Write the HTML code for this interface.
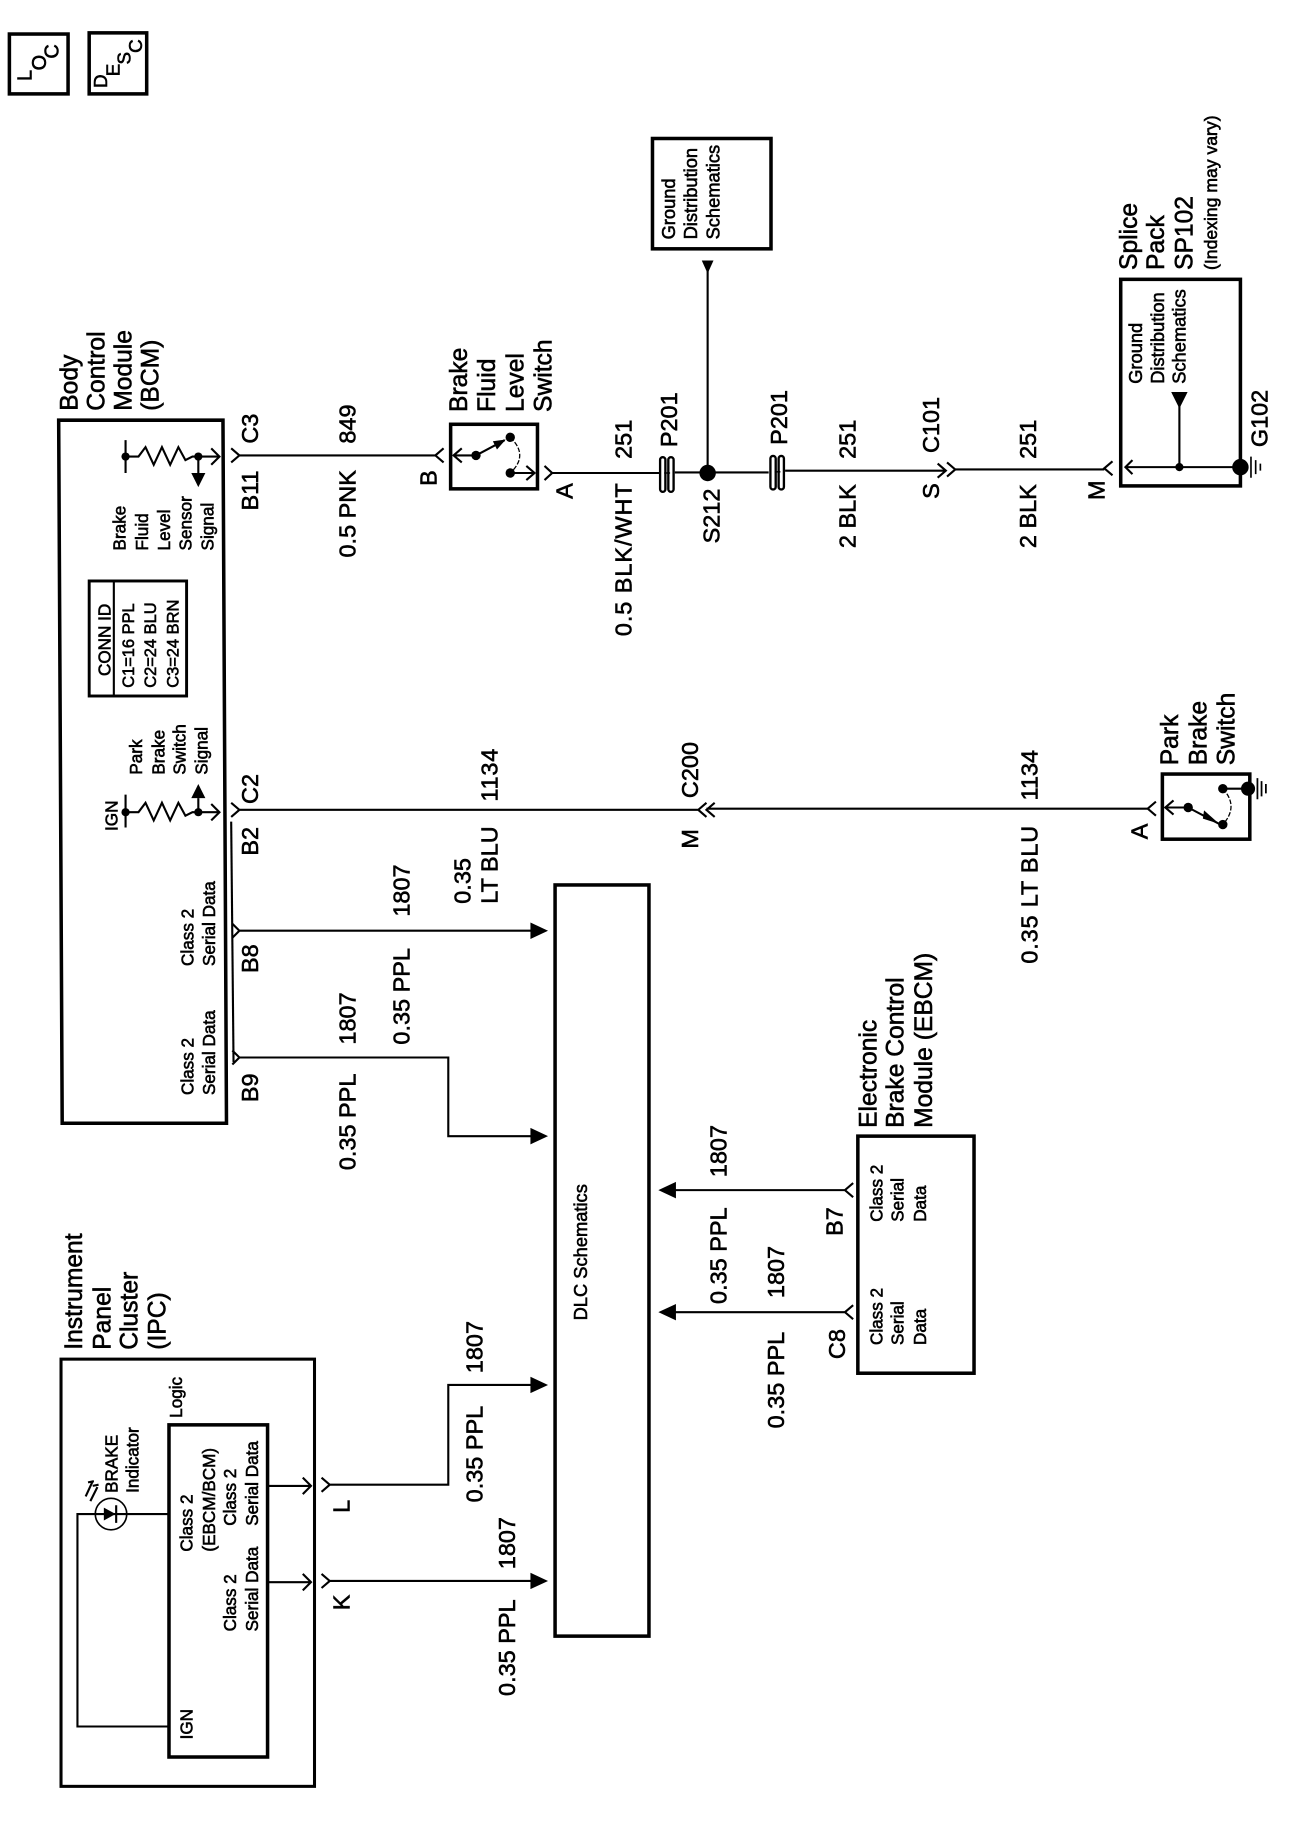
<!DOCTYPE html>
<html><head><meta charset="utf-8"><style>
html,body{margin:0;padding:0;background:#fff}
svg{display:block}
text{font-family:"Liberation Sans",sans-serif;fill:#000;stroke:#000;stroke-width:.5}
.l{font-size:20px}.s{font-size:14.6px}.t{font-size:21px}.g{font-size:15.6px}
.w{fill:none;stroke:#000;stroke-width:1.8}
.b{fill:none;stroke:#000;stroke-width:3}
.f{fill:#000;stroke:none}
.d{fill:none;stroke:#000;stroke-width:1.1;stroke-dasharray:4 1.5}
.p{fill:#fff;stroke:#000;stroke-width:2}
</style></head><body>
<svg width="1312" height="1838" viewBox="0 0 1118 1566" preserveAspectRatio="none" xmlns="http://www.w3.org/2000/svg">
<!-- LOC / DESC -->
<rect class="b" x="8" y="29" width="50" height="51"/>
<rect class="b" x="76" y="28" width="49" height="52"/>
<text class="l" style="font-size:17px" transform="translate(27 69) rotate(-90)">L</text>
<text class="l" style="font-size:17px" transform="translate(39 60) rotate(-90)">O</text>
<text class="l" style="font-size:17px" transform="translate(50 50) rotate(-90)">C</text>
<text class="s" style="font-size:16px" transform="translate(91 75) rotate(-90)">D</text>
<text class="s" style="font-size:16px" transform="translate(102 65) rotate(-90)">E</text>
<text class="s" style="font-size:16px" transform="translate(111 55) rotate(-90)">S</text>
<text class="s" style="font-size:16px" transform="translate(121 45) rotate(-90)">C</text>

<!-- BCM -->
<polygon class="b" points="50,358 190,358 193,957 53,957"/>
<text class="t" transform="translate(66 350) rotate(-90)">Body</text>
<text class="t" transform="translate(89 350) rotate(-90)">Control</text>
<text class="t" transform="translate(112 350) rotate(-90)">Module</text>
<text class="t" transform="translate(135 350) rotate(-90)">(BCM)</text>
<path class="w" d="M107 375V403M107 389H118L124 381L131 396L138 381L145 396L152 381L158 392L164 389H186M180 382L187 389L180 396M169 389V405"/>
<circle class="f" cx="107" cy="389" r="3.5"/><circle class="f" cx="169" cy="389" r="3.5"/>
<polygon class="f" points="163,403 175,403 169,415"/>
<text class="s" transform="translate(107 469) rotate(-90)">Brake</text>
<text class="s" transform="translate(126 469) rotate(-90)">Fluid</text>
<text class="s" transform="translate(145 469) rotate(-90)">Level</text>
<text class="s" transform="translate(163 469) rotate(-90)">Sensor</text>
<text class="s" transform="translate(182 469) rotate(-90)">Signal</text>
<!-- Conn ID -->
<rect class="b" style="stroke-width:2.5" x="76" y="495" width="83" height="98"/>
<path class="w" d="M97 495V593"/>
<text class="s" transform="translate(94 576) rotate(-90)">CONN ID</text>
<text class="s" style="font-size:14px" transform="translate(114 586) rotate(-90)">C1=16 PPL</text>
<text class="s" style="font-size:14px" transform="translate(133 586) rotate(-90)">C2=24 BLU</text>
<text class="s" style="font-size:14px" transform="translate(152 586) rotate(-90)">C3=24 BRN</text>
<!-- IGN resistor -->
<path class="w" d="M107 677V705M107 692H118L124 684L131 699L138 684L145 699L152 684L158 695L164 692H186M180 685L187 692L180 699M169 692V680"/>
<circle class="f" cx="107" cy="692" r="3.5"/><circle class="f" cx="169" cy="692" r="3.5"/>
<polygon class="f" points="163,680 175,680 169,668"/>
<text class="s" transform="translate(100 708) rotate(-90)">IGN</text>
<text class="s" transform="translate(121 660) rotate(-90)">Park</text>
<text class="s" transform="translate(140 660) rotate(-90)">Brake</text>
<text class="s" transform="translate(158 660) rotate(-90)">Switch</text>
<text class="s" transform="translate(177 660) rotate(-90)">Signal</text>
<text class="s" transform="translate(165 823) rotate(-90)">Class 2</text>
<text class="s" transform="translate(183 823) rotate(-90)">Serial Data</text>
<text class="s" transform="translate(165 933) rotate(-90)">Class 2</text>
<text class="s" transform="translate(183 933) rotate(-90)">Serial Data</text>

<!-- BCM pins and wires -->
<path class="w" d="M197 382L204 388L197 394M204 388H371M378 382L371 388L378 394"/>
<text class="l" transform="translate(220 378) rotate(-90)">C3</text>
<text class="l" transform="translate(220 435) rotate(-90)">B11</text>
<text class="l" transform="translate(303 378) rotate(-90)">849</text>
<text class="l" transform="translate(303 475) rotate(-90)">0.5 PNK</text>
<text class="l" transform="translate(372 414) rotate(-90)">B</text>

<path class="w" d="M197 684L204 690L197 696M204 690H595M602 684L595 690L602 696M609 684L602 690L609 696M602 689H978M985 683L978 689L985 695"/>
<path class="w" d="M197 700L199 905"/>
<path class="w" d="M198 787L204 793L198 799M204 793H453"/>
<polygon class="f" points="452,786 452,800 467,793"/>
<path class="w" d="M198 895L204 901H382V968H453"/>
<path class="w" d="M198 907L204 901"/>
<polygon class="f" points="452,961 452,975 467,968"/>
<text class="l" transform="translate(220 685) rotate(-90)">C2</text>
<text class="l" transform="translate(220 729) rotate(-90)">B2</text>
<text class="l" transform="translate(220 829) rotate(-90)">B8</text>
<text class="l" transform="translate(220 939) rotate(-90)">B9</text>
<text class="l" style="letter-spacing:.7px" transform="translate(424 683) rotate(-90)">1134</text>
<text class="l" transform="translate(401 770) rotate(-90)">0.35</text>
<text class="l" transform="translate(424 770) rotate(-90)">LT BLU</text>
<text class="l" transform="translate(349 781) rotate(-90)">1807</text>
<text class="l" transform="translate(349 890) rotate(-90)">0.35 PPL</text>
<text class="l" transform="translate(303 890) rotate(-90)">1807</text>
<text class="l" transform="translate(303 997) rotate(-90)">0.35 PPL</text>

<!-- DLC -->
<rect class="b" x="473" y="754" width="80" height="640"/>
<text class="g" transform="translate(500 1125) rotate(-90)">DLC Schematics</text>

<!-- Brake fluid level switch -->
<rect class="b" x="384" y="361.5" width="74" height="55"/>
<text class="t" transform="translate(398 351) rotate(-90)">Brake</text>
<text class="t" transform="translate(422 351) rotate(-90)">Fluid</text>
<text class="t" transform="translate(446 351) rotate(-90)">Level</text>
<text class="t" transform="translate(470 351) rotate(-90)">Switch</text>
<path class="w" d="M405.6 388H386.5M393.5 382L386.5 388L393.5 394M405.6 388L430 375M434.8 403H455M448.5 397L455.5 403L448.5 409"/>
<path class="d" d="M434.8 372.6Q451 388 434.8 403"/>
<polygon class="f" points="420,376 423.5,383 431,374.5"/>
<circle class="f" cx="405.6" cy="388" r="4"/><circle class="f" cx="434.8" cy="372.6" r="4"/><circle class="f" cx="434.8" cy="403" r="4"/>
<path class="w" d="M464 397L470.5 403L464 409M470.5 403H562M575 402.5H655M669 401H805M799 395L806 401L799 407M807 394L814 400L807 406M814 400H941M948 393L941 399L948 405"/>
<text class="l" transform="translate(488 425) rotate(-90)">A</text>
<text class="l" transform="translate(538 391) rotate(-90)">251</text>
<text class="l" style="letter-spacing:.8px" transform="translate(538 542) rotate(-90)">0.5 BLK/WHT</text>
<!-- P201 -->
<rect class="p" x="562.5" y="389.5" width="4.5" height="29.5" rx="2.2"/>
<rect class="p" x="569.5" y="389.5" width="4.5" height="29.5" rx="2.2"/>
<path class="w" d="M566 403H571" style="stroke-width:1.2"/>
<rect class="p" x="656.5" y="388.5" width="4.5" height="28.5" rx="2.2"/>
<rect class="p" x="663.5" y="388.5" width="4.5" height="28.5" rx="2.2"/>
<path class="w" d="M660 402H665" style="stroke-width:1.2"/>
<text class="l" transform="translate(577 381) rotate(-90)">P201</text>
<text class="l" transform="translate(670.5 379) rotate(-90)">P201</text>
<circle class="f" cx="603" cy="403" r="7"/>
<path class="w" d="M603 403V228"/>
<polygon class="f" points="598,222 608,222 603,233"/>
<text class="l" transform="translate(613 463) rotate(-90)">S212</text>
<rect class="b" x="556" y="118" width="101" height="94"/>
<text class="g" transform="translate(575 204) rotate(-90)">Ground</text>
<text class="g" transform="translate(594 204) rotate(-90)">Distribution</text>
<text class="g" transform="translate(613 204) rotate(-90)">Schematics</text>
<text class="l" transform="translate(729 391) rotate(-90)">251</text>
<text class="l" transform="translate(729 467) rotate(-90)">2 BLK</text>
<text class="l" transform="translate(800 386) rotate(-90)">C101</text>
<text class="l" transform="translate(800 425) rotate(-90)">S</text>
<text class="l" transform="translate(883 391) rotate(-90)">251</text>
<text class="l" transform="translate(883 467) rotate(-90)">2 BLK</text>
<text class="l" transform="translate(941 426) rotate(-90)">M</text>

<!-- Splice pack -->
<rect class="b" x="955" y="238" width="102" height="176"/>
<text class="t" transform="translate(969 230) rotate(-90)">Splice</text>
<text class="t" transform="translate(992 230) rotate(-90)">Pack</text>
<text class="t" transform="translate(1016 230) rotate(-90)">SP102</text>
<text class="s" style="font-size:15px" transform="translate(1037 230) rotate(-90)">(Indexing may vary)</text>
<text class="g" transform="translate(973 327) rotate(-90)">Ground</text>
<text class="g" transform="translate(992 327) rotate(-90)">Distribution</text>
<text class="g" transform="translate(1010 327) rotate(-90)">Schematics</text>
<path class="w" d="M1057 398H959M965 392L959 398L965 404M1005 398V342"/>
<polygon class="f" points="998,334 1012,334 1005,348"/>
<circle class="f" cx="1005" cy="398" r="3.5"/><circle class="f" cx="1057" cy="398" r="7"/>
<path class="w" d="M1066 389V407M1070 392V404M1074 395V401" style="stroke-width:1.4"/>
<text class="l" transform="translate(1080 381) rotate(-90)">G102</text>

<!-- Park brake switch -->
<rect class="b" x="990.5" y="659.5" width="74.5" height="55.5"/>
<text class="t" transform="translate(1004 652) rotate(-90)">Park</text>
<text class="t" transform="translate(1028 652) rotate(-90)">Brake</text>
<text class="t" transform="translate(1052 652) rotate(-90)">Switch</text>
<path class="w" d="M1012.5 688H993M1000 682L993 688L1000 694M1012.5 688L1039 702M1042 672H1063"/>
<path class="d" d="M1042 672Q1056 687 1042 702.5"/>
<polygon class="f" points="1026,690.5 1025,697.5 1039,702"/>
<circle class="f" cx="1012.5" cy="688" r="4"/><circle class="f" cx="1042" cy="672" r="4"/><circle class="f" cx="1042" cy="702.5" r="4"/>
<circle class="f" cx="1063.5" cy="672" r="6"/>
<path class="w" d="M1071.5 663V681M1075 665.5V678.5M1078.7 668V676" style="stroke-width:1.5"/>
<text class="l" transform="translate(978 715) rotate(-90)">A</text>
<text class="l" transform="translate(884 682) rotate(-90)">1134</text>
<text class="l" style="letter-spacing:.7px" transform="translate(884 821) rotate(-90)">0.35 LT BLU</text>
<text class="l" transform="translate(595 723) rotate(-90)">M</text>
<text class="l" transform="translate(595 680) rotate(-90)">C200</text>

<!-- EBCM -->
<rect class="b" x="731" y="968" width="99" height="202"/>
<text class="t" transform="translate(747 961) rotate(-90)">Electronic</text>
<text class="t" transform="translate(770 961) rotate(-90)">Brake Control</text>
<text class="t" transform="translate(794 961) rotate(-90)">Module (EBCM)</text>
<text class="s" transform="translate(752 1041) rotate(-90)">Class 2</text>
<text class="s" transform="translate(770 1041) rotate(-90)">Serial</text>
<text class="s" transform="translate(789 1041) rotate(-90)">Data</text>
<text class="s" transform="translate(752 1146) rotate(-90)">Class 2</text>
<text class="s" transform="translate(770 1146) rotate(-90)">Serial</text>
<text class="s" transform="translate(789 1146) rotate(-90)">Data</text>
<path class="w" d="M575 1014H720M727 1008L720 1014L727 1020M575 1118H720M727 1112L720 1118L727 1124"/>
<polygon class="f" points="576,1007 576,1021 561,1014"/>
<polygon class="f" points="576,1111 576,1125 561,1118"/>
<text class="l" transform="translate(619 1003) rotate(-90)">1807</text>
<text class="l" transform="translate(619 1111) rotate(-90)">0.35 PPL</text>
<text class="l" transform="translate(668 1106) rotate(-90)">1807</text>
<text class="l" transform="translate(668 1217) rotate(-90)">0.35 PPL</text>
<text class="l" transform="translate(718 1053) rotate(-90)">B7</text>
<text class="l" transform="translate(720 1158) rotate(-90)">C8</text>

<!-- IPC -->
<rect class="b" style="stroke-width:2.6" x="52" y="1158" width="216" height="364"/>
<text class="t" transform="translate(70 1150) rotate(-90)">Instrument</text>
<text class="t" transform="translate(94 1150) rotate(-90)">Panel</text>
<text class="t" transform="translate(117 1150) rotate(-90)">Cluster</text>
<text class="t" transform="translate(141 1150) rotate(-90)">(IPC)</text>
<rect class="b" x="144" y="1214" width="84" height="283"/>
<text class="s" transform="translate(155 1208) rotate(-90)">Logic</text>
<text class="s" transform="translate(100 1272) rotate(-90)">BRAKE</text>
<text class="s" transform="translate(118 1272) rotate(-90)">Indicator</text>
<circle class="w" style="stroke-width:1.4" cx="94.6" cy="1290" r="13.4"/>
<path class="w" d="M144 1290H66V1471H144M99 1282.5V1297.5"/>
<polygon class="f" points="88.5,1284.5 88.5,1295.5 98.5,1290"/>
<path class="w" style="stroke-width:1.8" d="M77 1279L83 1267M73 1275L79 1262M79 1266L84 1265M75 1263L80 1262"/>
<text class="s" transform="translate(164 1322) rotate(-90)">Class 2</text>
<text class="s" transform="translate(183 1322) rotate(-90)">(EBCM/BCM)</text>
<text class="s" transform="translate(201 1300) rotate(-90)">Class 2</text>
<text class="s" transform="translate(220 1300) rotate(-90)">Serial Data</text>
<text class="s" transform="translate(201 1390) rotate(-90)">Class 2</text>
<text class="s" transform="translate(220 1390) rotate(-90)">Serial Data</text>
<text class="s" transform="translate(164 1482) rotate(-90)">IGN</text>
<path class="w" d="M228 1266H264M258 1259L265 1266L258 1273M228 1348H264M258 1341L265 1348L258 1355"/>
<path class="w" d="M274 1259L281 1265L274 1271M281 1265H382V1180H453M274 1341L281 1347L274 1353M281 1347H453"/>
<polygon class="f" points="452,1173 452,1187 467,1180"/>
<polygon class="f" points="452,1340 452,1354 467,1347"/>
<text class="l" transform="translate(298 1289) rotate(-90)">L</text>
<text class="l" transform="translate(298 1372) rotate(-90)">K</text>
<text class="l" transform="translate(411 1170) rotate(-90)">1807</text>
<text class="l" transform="translate(411 1280) rotate(-90)">0.35 PPL</text>
<text class="l" transform="translate(439 1337) rotate(-90)">1807</text>
<text class="l" transform="translate(439 1445) rotate(-90)">0.35 PPL</text>
</svg>
</body></html>
